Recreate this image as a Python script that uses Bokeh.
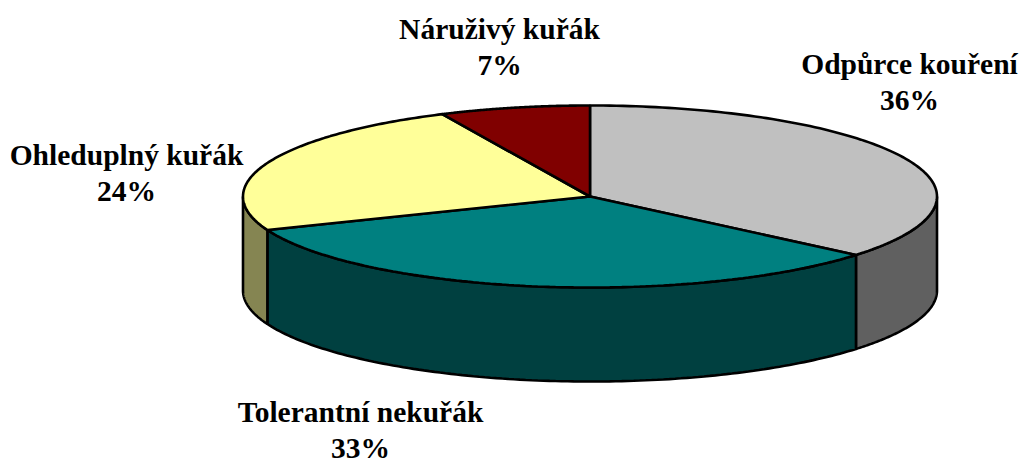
import numpy as np
from bokeh.plotting import figure
from bokeh.core.properties import value
from bokeh.embed import file_html
from bokeh.resources import INLINE

categories = ["Odpůrce kouření", "Tolerantní nekuřák", "Ohleduplný kuřák", "Náruživý kuřák"]
shares = [36.1, 32.9, 24.0, 7.0]
top_colors = ["#C0C0C0", "#008080", "#FFFF99", "#800000"]
side_colors = ["#606060", "#004040", "#858552", "#400000"]
label_x = [909, 360, 126, 499]
label_y = [81, 429, 172, 46]

CX, CY, RX, RY, DEPTH = 589.5, 196, 347, 91, 94

p = figure(width=1020, height=459, x_range=(0, 1020), y_range=(459, 0),
           toolbar_location=None, output_backend="svg", min_border=0)
p.axis.visible = False
p.grid.visible = False
p.outline_line_color = None
p.background_fill_color = "white"

edges = np.concatenate([[0], np.cumsum(shares)]) / sum(shares) * 2 * np.pi

def arc(a, b, n=120):
    t = np.linspace(a, b, n)
    return CX + RX * np.sin(t), CY - RY * np.cos(t)

# side walls
for i in range(len(shares)):
    a, b = max(edges[i], np.pi / 2), min(edges[i + 1], 3 * np.pi / 2)
    if a >= b:
        continue
    x, y = arc(a, b)
    xs = np.concatenate([x, x[::-1]])
    ys = np.concatenate([y, y[::-1] + DEPTH])
    p.patch(xs, ys, fill_color=side_colors[i], line_color="black", line_width=2.6)

# top face
for i in range(len(shares)):
    x, y = arc(edges[i], edges[i + 1])
    p.patch(np.concatenate([[CX], x]), np.concatenate([[CY], y]),
            fill_color=top_colors[i], line_color="black", line_width=2.6)

for i, c in enumerate(categories):
    for text, dy in ((c, -18), (f"{round(shares[i])}%", 18)):
        p.text([label_x[i]], [label_y[i] + dy], text=[text], text_align="center",
               text_baseline="middle", text_font=value("Liberation Serif"),
               text_font_style="bold", text_font_size="29.5px", text_color="black")

open("out.html", "w").write(file_html(p, INLINE))
